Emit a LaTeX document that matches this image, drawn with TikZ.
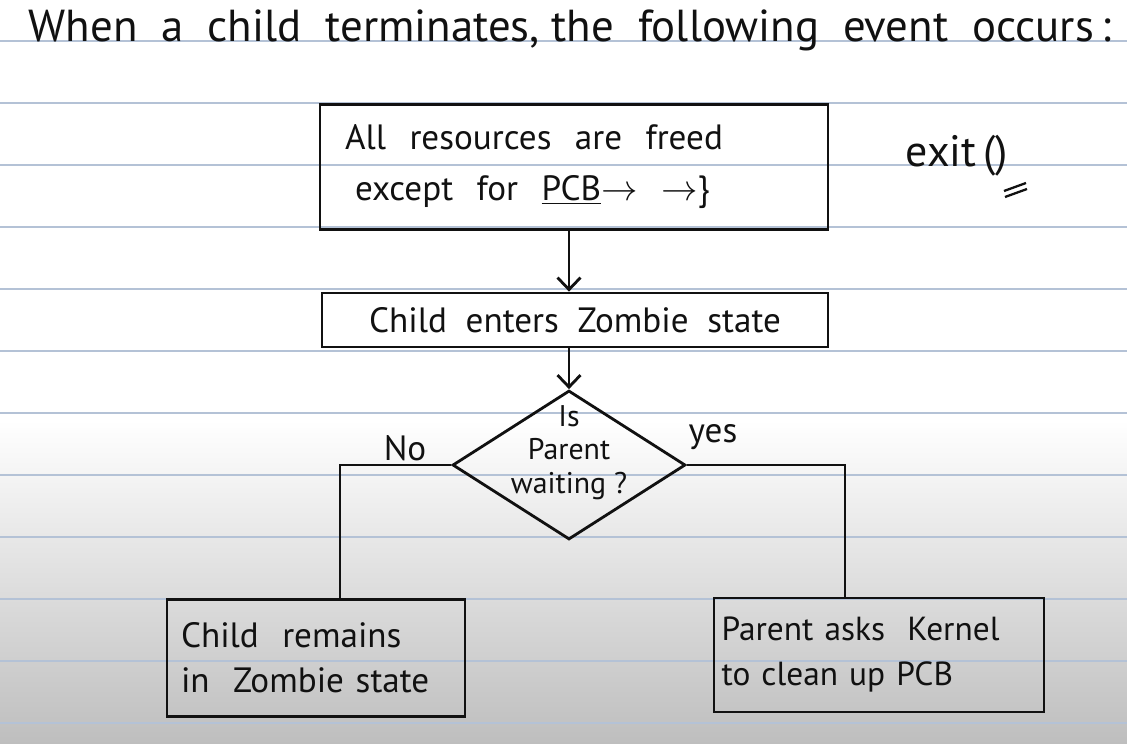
\documentclass[tikz,border=0pt]{standalone}
\usepackage{fontspec}
\setmainfont{PT Sans}
\usetikzlibrary{arrows.meta,positioning,shapes.geometric}
\definecolor{noteInk}{HTML}{111111}
\definecolor{noteRule}{HTML}{B4C2D6}
\definecolor{noteShade}{HTML}{BEBEBE}
\tikzset{
  every picture/.style={font=\fontsize{20}{29}\selectfont, text=noteInk},
  note box/.style={draw=noteInk, line width=1.6pt, inner sep=0pt},
  note diamond/.style={diamond, draw=noteInk, line width=1.6pt, inner sep=0pt,
    minimum width=4.66cm, minimum height=2.98cm},
  note rule/.style={draw=noteRule, line width=0.9pt},
  note line/.style={draw=noteInk, line width=1.6pt},
  note arrow/.style={-{Straight Barb[length=2.4mm,width=4.6mm]},
    draw=noteInk, line width=1.6pt}
}

\begin{document}
\begin{tikzpicture}[x=0.02cm,y=-0.02cm]
  \useasboundingbox (0,0) rectangle (1127,744);
  % paper
  \fill[white] (0,0) rectangle (1127,744);
  \shade[top color=white, bottom color=noteShade] (0,420) rectangle (1127,744);
  \foreach \y in {41,103,...,723}
    \draw[note rule] (0,\y) -- (1127,\y);

  \node[font=\fontsize{25.5}{30}\selectfont] (title) at (570,30)
    {When\ \ a\ \ child\ \ terminates,\ the\ \ following\ \ event\ \ occurs\,:};

  \node[note box, minimum width=10.16cm, minimum height=2.5cm,
    text width=9.16cm, align=left] (freed) at (574,167)
    {All\ \ resources\ \ are\ \ freed\\
     \hspace{0.2cm}except\ \ for\ \ \underline{PCB}$\rightarrow$\ \ $\rightarrow$\}};
  \node[note box, minimum width=10.12cm, minimum height=1.08cm] (zombie) at (575,320)
    {Child\ \ enters\ \ Zombie\ \ state};
  \node[note diamond, label={[align=center, font=\fontsize{17}{19}\selectfont,
    yshift=0.25cm]center:Is\\Parent\\waiting ?}] (waiting) at (569,465) {};

  \node[note box, minimum width=5.96cm, minimum height=2.34cm,
    text width=5.4cm, align=left, font=\fontsize{20}{25.6}\selectfont] (remains) at (316,658)
    {Child\ \ remains\\in\ \ Zombie\ state};
  \node[note box, minimum width=6.6cm, minimum height=2.28cm,
    text width=6.3cm, align=left, font=\fontsize{19}{25.6}\selectfont] (cleanup) at (879,655)
    {Parent\ asks\ \ Kernel\\to clean up PCB};

  \node (nolabel) at (405,448) {No};
  \node (yeslabel) at (713,437) {yes};

  \node[font=\fontsize{25}{30}\selectfont] (exitcall) at (957,156) {exit\,()};
  \draw[note line, line width=1.3pt] (1005,197) -- (1027,189);
  \draw[note line, line width=1.3pt] (1004,191) -- (1026,183);

  % connectors
  \draw[note arrow] (freed.south -| waiting.north) -- (zombie.north -| waiting.north);
  \draw[note arrow] (zombie.south -| waiting.north) -- (waiting.north);
  \draw[note line] (waiting.west) -| ([xshift=0.48cm]remains.north);
  \draw[note line] (waiting.east) -| ([xshift=-0.68cm]cleanup.north);
\end{tikzpicture}
\end{document}
